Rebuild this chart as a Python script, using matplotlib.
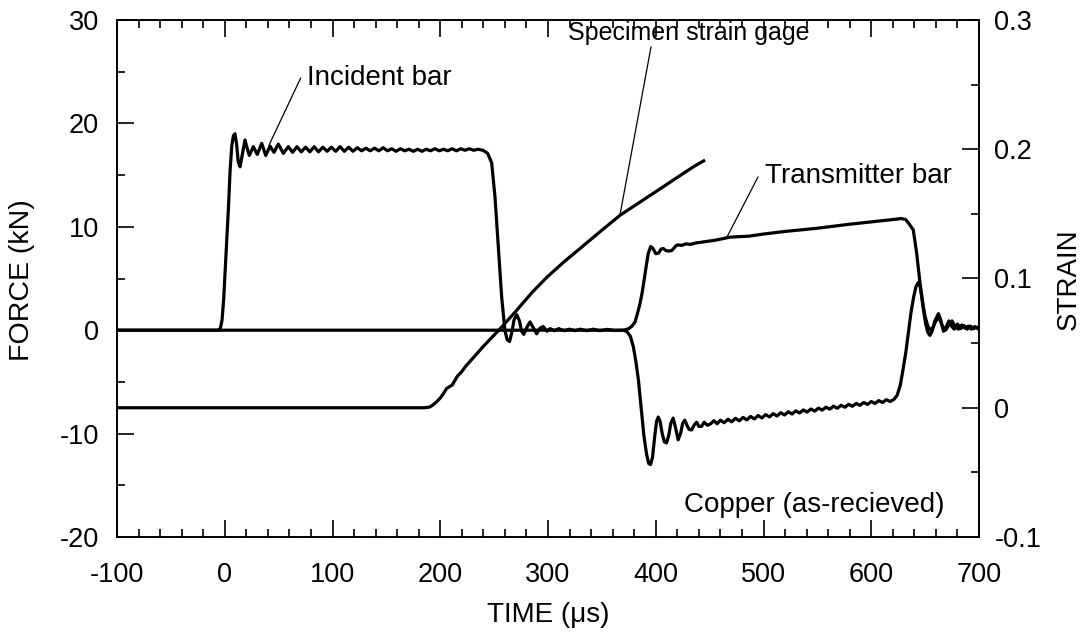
import matplotlib
matplotlib.use("Agg")
import matplotlib.pyplot as plt
from matplotlib.ticker import MultipleLocator, FuncFormatter

plt.rcParams['font.family'] = ['Liberation Sans', 'DejaVu Sans']
plt.rcParams['axes.unicode_minus'] = False

# ---------------- data ----------------
# Incident bar force (kN) vs time (us)
incident_t = [-100, -10, -6, -4, -2.5, -1, 0.5, 2, 3.5, 5, 6.5, 8, 9.5, 11, 12.5, 14.2,
              16, 18.8, 20.8, 22.8, 26.5, 30.2, 34.3, 38, 42, 45.7, 49.7, 54.4, 59,
              63, 67, 71, 75, 79, 83, 87, 91, 95, 99, 103, 107, 111, 115, 119, 123,
              127, 131, 135, 139, 143, 147, 151, 155, 159, 163, 167, 171, 175, 179,
              183, 187, 191, 195, 199, 203, 207, 211, 215, 219, 223, 227, 231, 235,
              239.7, 244, 247.7, 250.8, 253.9, 257, 260, 262, 264.3, 266.5, 268.5,
              271, 273.5, 275.5, 277.5, 280.5, 283.3, 286.5, 289.5, 292.5, 295.5,
              299, 302, 306, 310, 315, 320, 325, 330, 336, 342, 348, 355, 362, 370,
              373, 376.5, 379.2, 381.5, 383.9, 386.5, 389, 391.5, 393.5, 395.2, 397,
              399, 400.8, 402.3, 404, 406, 408, 410, 412, 414, 416.2, 418.5, 420.8,
              423, 425, 427, 429, 431, 433.3, 435.5, 438, 440, 442.5, 445, 448, 451,
              454, 457, 460, 463.5, 467, 470.5, 474, 477.5, 481, 484.5, 488, 491.5,
              495, 498.5, 502, 505.5, 509, 512.5, 516, 519.5, 523, 526.5, 530, 533.5,
              537, 540.5, 544, 547.5, 551, 554.5, 558, 561.5, 565, 568.5, 572, 575.5,
              579, 582.5, 586, 589.5, 593, 596.5, 600, 603.5, 607, 610.5, 614, 617.5,
              621, 624, 627, 629.5, 632, 634.5, 637, 639.5, 641.5, 643.5, 645.5, 648,
              650.5, 652.5, 654.4, 656.5, 659, 662.3, 664.5, 667, 669.5, 672, 674.5,
              677, 680, 683, 686, 689, 692, 695, 698, 700]
incident_f = [0, 0, 0, 0.2, 1, 3, 6, 9, 12, 15.5, 17.8, 18.8, 19.0, 18.0, 16.3, 15.8,
              16.8, 18.4, 17.6, 16.9, 17.75, 17.0, 18.07, 16.9, 17.8, 17.2, 18.0, 17.1,
              17.75, 17.2, 17.75, 17.25, 17.7, 17.25, 17.75, 17.25, 17.7, 17.3, 17.7,
              17.3, 17.75, 17.3, 17.7, 17.3, 17.65, 17.35, 17.6, 17.35, 17.6, 17.35,
              17.65, 17.35, 17.55, 17.3, 17.55, 17.35, 17.5, 17.3, 17.5, 17.3, 17.5,
              17.35, 17.55, 17.35, 17.5, 17.35, 17.55, 17.35, 17.55, 17.4, 17.55, 17.4,
              17.5, 17.4, 17.1, 16.2, 12.9, 8.1, 3.2, 0.0, -0.9, -1.1, -0.2, 1.0, 1.5,
              0.9, -0.1, -0.4, 0.3, 0.8, 0.2, -0.35, 0.2, 0.35, -0.1, 0.15, -0.05,
              0.15, -0.05, 0.1, -0.05, 0.1, -0.05, 0.1, -0.05, 0.08, -0.03, 0.0,
              -0.1, -0.6, -1.6, -3.0, -4.8, -7.5, -10.2, -12.0, -12.9, -13.0, -12.3,
              -10.3, -8.8, -8.4, -8.8, -10.0, -10.8, -10.9, -10.2, -9.0, -8.5, -9.5,
              -10.6, -10.0, -9.0, -8.7, -9.2, -9.6, -9.65, -9.2, -8.9, -9.3, -9.3,
              -8.9, -9.2, -9.05, -8.75, -9.05, -8.70, -8.95, -8.61, -8.86, -8.52,
              -8.77, -8.43, -8.68, -8.34, -8.58, -8.25, -8.49, -8.16, -8.39, -8.07,
              -8.30, -7.98, -8.20, -7.89, -8.11, -7.80, -8.01, -7.71, -7.92, -7.62,
              -7.83, -7.53, -7.73, -7.44, -7.64, -7.35, -7.55, -7.26, -7.45, -7.17,
              -7.36, -7.08, -7.27, -6.99, -7.18, -6.90, -7.08, -6.81, -6.99, -6.72,
              -6.90, -6.70, -6.3, -5.3, -3.8, -2.2, -0.2, 1.8, 3.3, 4.2, 4.6, 4.2, 2.3,
              0.6, -0.2, -0.5, -0.1, 0.9, 1.6, 1.0, -0.1, 0.3, 0.9, 0.4, 0.1, 0.6,
              0.15, 0.45, 0.1, 0.4, 0.15, 0.3, 0.1]

# Transmitter bar force (kN) vs time (us)
transmit_t = [-100, 370, 375, 378, 380.8, 383, 385, 387, 389, 391, 393, 395.3, 397.5,
              400, 402.5, 405, 407, 409.5, 412, 414.8, 417, 419, 421, 424, 428, 432,
              438, 445, 455, 469, 487, 500, 520, 549, 580, 611, 620, 628, 632, 635,
              639, 642.2, 645.3, 648, 650, 652.5, 655, 657.5, 660, 663, 666, 669,
              672, 675, 678, 681, 684, 687, 690, 693, 696, 700]
transmit_f = [0, 0, 0.15, 0.4, 0.8, 1.6, 2.4, 3.4, 4.7, 6.1, 7.4, 8.1, 7.9, 7.4, 7.45,
              7.85, 7.9, 7.7, 7.65, 7.7, 7.95, 8.2, 8.25, 8.2, 8.35, 8.3, 8.45, 8.55,
              8.7, 9.0, 9.1, 9.3, 9.55, 9.85, 10.25, 10.6, 10.7, 10.8, 10.7, 10.3, 9.7,
              7.4, 4.5, 2.5, 1.3, 0.4, 0.0, 0.3, 0.9, 1.2, 0.4, 0.0, 0.5, 0.9, 0.3,
              0.1, 0.5, 0.2, 0.4, 0.1, 0.35, 0.1]

# Specimen strain gage (strain) vs time (us)
strain_t = [-100, 185, 190, 193, 196.5, 200, 203, 206, 208.5, 211, 213.5, 216, 220,
            224, 228, 240, 256, 270, 285, 299, 315, 330, 348, 367, 387, 407, 425,
            437, 444.5]
strain_e = [0, 0, 0.0005, 0.002, 0.0045, 0.0075, 0.011, 0.0150, 0.0163, 0.0175,
            0.021, 0.0245, 0.028, 0.0325, 0.0362, 0.0475, 0.0615, 0.0745, 0.089,
            0.101, 0.113, 0.1234, 0.136, 0.149, 0.160, 0.171, 0.181, 0.1875, 0.191]

# ---------------- figure ----------------
W, H = 1083, 644
fig = plt.figure(figsize=(W / 100, H / 100), dpi=100)
L, R, T, B = 117, 979, 20, 537
ax = fig.add_axes([L / W, 1 - B / H, (R - L) / W, (B - T) / H])
ax2 = ax.twinx()

lw = 2.3
ax.plot(transmit_t, transmit_f, color='black', lw=lw, solid_joinstyle='round')
ax.plot(incident_t, incident_f, color='black', lw=lw, solid_joinstyle='round')
ax2.plot(strain_t, strain_e, color='black', lw=lw, solid_joinstyle='round')

ax.set_xlim(-100, 700)
ax.set_ylim(-20, 30)
ax2.set_ylim(-0.1, 0.3)

ax.xaxis.set_major_locator(MultipleLocator(100))
ax.xaxis.set_minor_locator(MultipleLocator(20))
ax.yaxis.set_major_locator(MultipleLocator(10))
ax.yaxis.set_minor_locator(MultipleLocator(5))
ax2.yaxis.set_major_locator(MultipleLocator(0.1))
ax2.yaxis.set_minor_locator(MultipleLocator(0.05))

ax.xaxis.set_major_formatter(FuncFormatter(lambda v, p: f"{int(round(v))}"))
ax.yaxis.set_major_formatter(FuncFormatter(lambda v, p: f"{int(round(v))}"))
ax2.yaxis.set_major_formatter(
    FuncFormatter(lambda v, p: "0" if abs(v) < 1e-9 else f"{v:.1f}"))

for a in (ax, ax2):
    for s in a.spines.values():
        s.set_linewidth(1.2)

ax.tick_params(which='both', direction='in', top=True, right=False, width=1.2,
               labelsize=19.5)
ax.tick_params(which='major', length=12)
ax.tick_params(which='minor', length=6)
ax.tick_params(axis='x', which='both', pad=18)
ax.tick_params(axis='y', which='both', pad=13)
ax2.tick_params(which='both', direction='in', width=1.2, labelsize=19.5, pad=11)
ax2.tick_params(which='major', length=12)
ax2.tick_params(which='minor', length=6)

# axis labels
fig.text(548 / W, 1 - 615 / H, "TIME (μs)", ha='center', va='center', fontsize=20)
fig.text(22 / W, 1 - 280 / H, "FORCE (kN)", ha='center', va='center', rotation=90,
         fontsize=20.5)
fig.text(1069 / W, 1 - 279 / H, "STRAIN", ha='center', va='center', rotation=90,
         fontsize=20)

# annotations
lead = dict(arrowstyle='-', lw=0.9, color='black', shrinkA=0, shrinkB=0)
ax.text(76.3, 23.71, "Incident bar", ha='left', va='baseline', fontsize=20)
ax.annotate("", xy=(41.1, 17.9), xytext=(70.5, 24.4), arrowprops=lead)

ax.text(318.5, 28.07, "Specimen strain gage", ha='left', va='baseline', fontsize=18)
ax.annotate("", xy=(366.8, 11.14), xytext=(395.6, 27.4), arrowprops=lead)

ax.text(501.4, 14.24, "Transmitter bar", ha='left', va='baseline', fontsize=20)
ax.annotate("", xy=(466.1, 9.01), xytext=(494.9, 14.82), arrowprops=lead)

ax.text(668.4, -17.58, "Copper (as-recieved)", ha='right', va='baseline', fontsize=20)

fig.savefig("out.png", dpi=100)
